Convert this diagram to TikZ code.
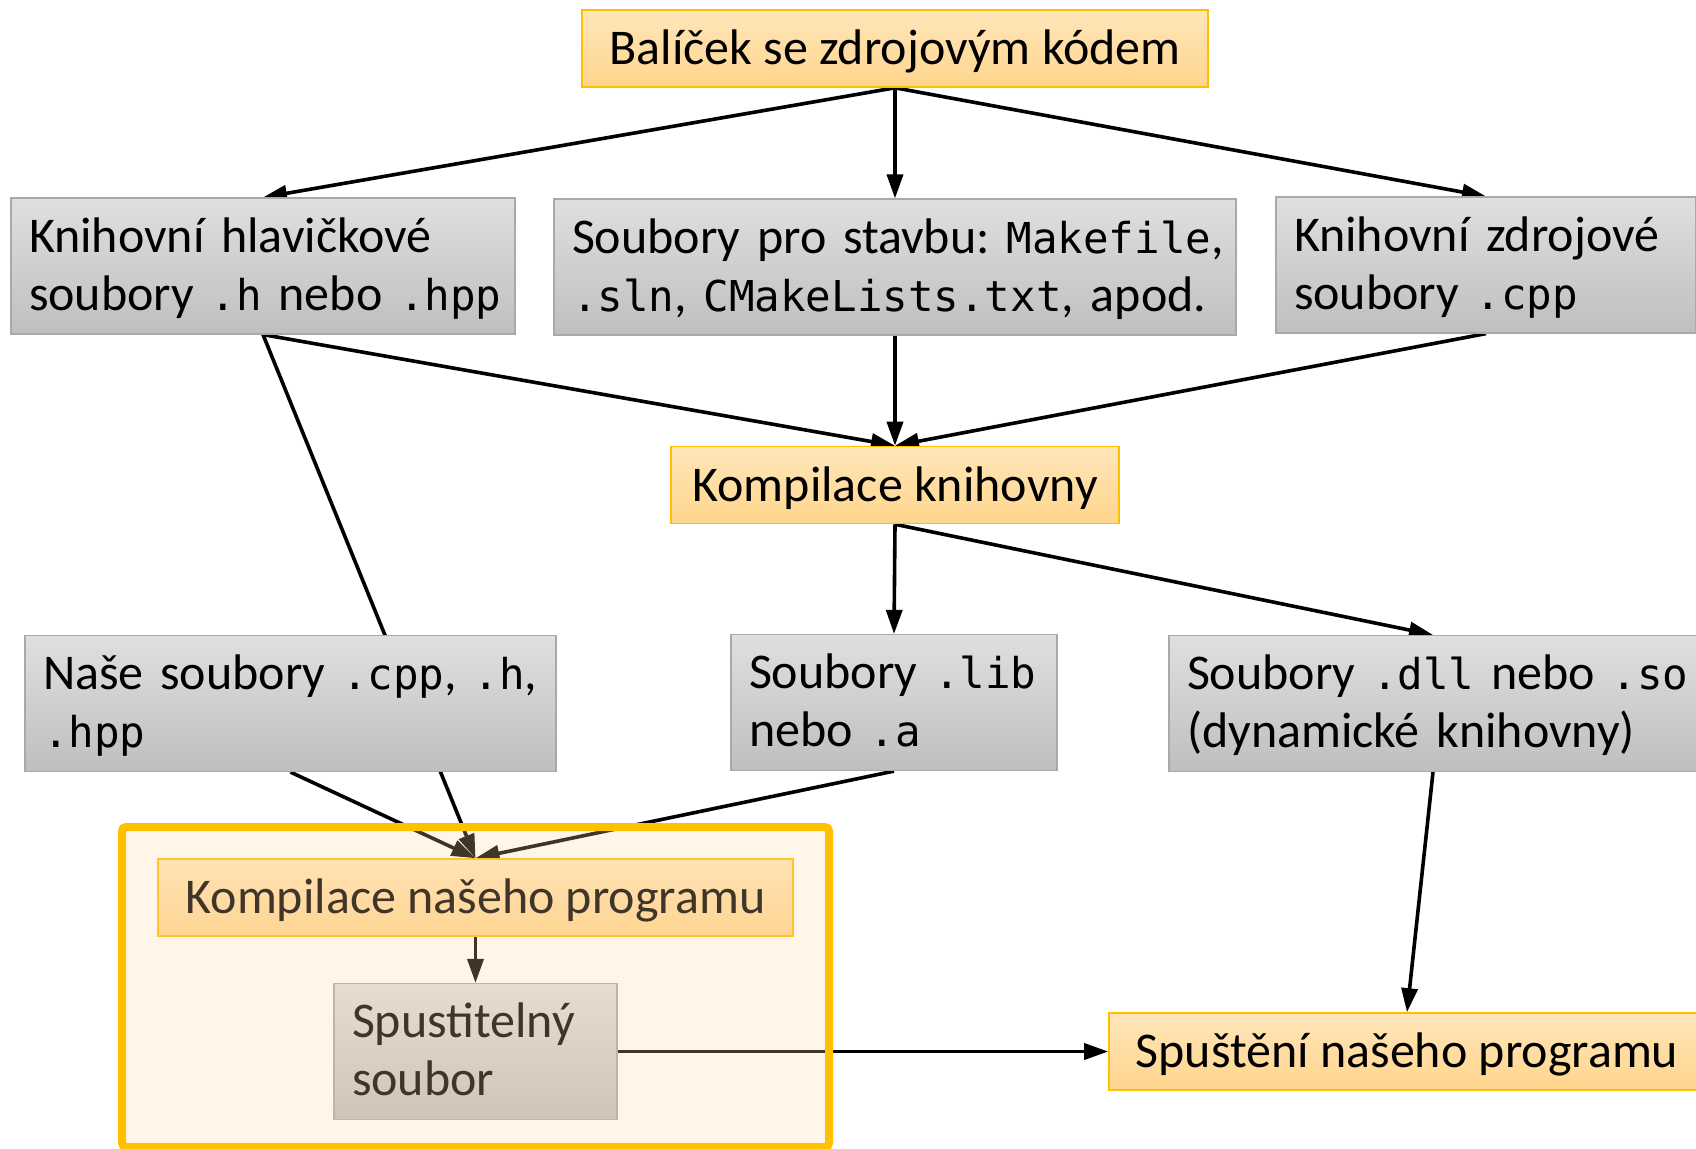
\documentclass[tikz,border=0pt]{standalone}
\usepackage{fontspec}
\setmainfont{Carlito}
\newfontfamily\monofont{DejaVu Sans Mono}[Scale=0.85]
\newcommand{\kod}[1]{{\monofont #1}}
\usetikzlibrary{arrows.meta,backgrounds}
\definecolor{graytop}{HTML}{DFDFDF}
\definecolor{graybot}{HTML}{BFBFBF}
\definecolor{grayline}{HTML}{A9A9A9}
\definecolor{orangetop}{HTML}{FFE6BA}
\definecolor{orangebot}{HTML}{FFD58C}
\definecolor{orangeline}{HTML}{FFC000}
\definecolor{tint}{RGB}{255,215,166}

\begin{document}
\begin{tikzpicture}[x=0.5pt, y=-0.5pt,
    every node/.style={font=\fontsize{25}{29}\selectfont\frenchspacing, inner ysep=0pt},
    gbox/.style={draw=grayline, line width=0.6pt, top color=graytop, bottom color=graybot,
      align=left, text width=#1, inner xsep=9pt, minimum height=68pt,
      execute at begin node={\rule{0pt}{22pt}}, execute at end node={\rule[-7pt]{0pt}{0pt}}},
    obox/.style={draw=orangeline, line width=0.8pt, top color=orangetop, bottom color=orangebot,
      align=center, minimum width=#1, minimum height=38.5pt,
      execute at begin node={\rule[-6pt]{0pt}{28pt}}},
    link/.style={line width=1.8pt, -{Triangle[length=12pt,width=8pt]}}]
  \useasboundingbox (0,0) rectangle (1696,1148);

  \node[obox=313pt] (balicek) at (895,48.5) {Balíček se zdrojovým kódem};
  \node[gbox=234pt] (hlavicky) at (263,266) {Knihovní hlavičkové\\\mbox{soubory \kod{.h} nebo \kod{.hpp}}};
  \node[gbox=323pt] (stavba) at (895,267) {\mbox{Soubory pro stavbu: \kod{Makefile},}\\\mbox{\kod{.sln}, \kod{CMakeLists.txt}, apod.}};
  \node[gbox=192pt] (zdroje) at (1486,265) {Knihovní zdrojové\\soubory \kod{.cpp}};
  \node[obox=224pt] (kompknih) at (895,485) {Kompilace knihovny};
  \node[gbox=247.5pt] (nase) at (290.5,703.5) {\mbox{Naše soubory \kod{.cpp}, \kod{.h},}\\\kod{.hpp}};
  \node[gbox=145pt] (lib) at (894,702.5) {\mbox{Soubory \kod{.lib}}\\nebo \kod{.a}};
  \node[gbox=246pt] (dll) at (1433,703.5) {\mbox{Soubory \kod{.dll} nebo \kod{.so}}\\(dynamické knihovny)};
  \node[obox=317.5pt] (kompprog) at (475.5,897.5) {Kompilace našeho programu};
  \node[gbox=123.5pt] (spust) at (475.5,1051.5) {Spustitelný\\soubor};
  \node[obox=298pt] (beh) at (1407,1051.5) {Spuštění našeho programu};

  \begin{pgfonlayer}{background}
    \draw[link] (balicek.south) -- (hlavicky.north);
    \draw[link] (balicek.south) -- (stavba.north);
    \draw[link] (balicek.south) -- (zdroje.north);
    \draw[link] (hlavicky.south) -- (kompknih.north);
    \draw[link] (stavba.south) -- (kompknih.north);
    \draw[link] (zdroje.south) -- (kompknih.north);
    \draw[link] (kompknih.south) -- (lib.north);
    \draw[link] (kompknih.south) -- (dll.north);
    \draw[link] (hlavicky.south) -- (kompprog.north);
    \draw[link] (nase.south) -- (kompprog.north);
    \draw[link] (lib.south) -- (kompprog.north);
    \draw[link] (kompprog.south) -- (spust.north);
    \draw[link] (spust.east) -- (beh.west);
    \draw[link] (dll.south) -- (beh.north);
  \end{pgfonlayer}

  % ramecek nad nasim programem
  \draw[line width=4pt, draw=orangeline, fill=tint, fill opacity=0.25, rounded corners=2pt]
    (122,827) rectangle (829,1147);
\end{tikzpicture}
\end{document}
